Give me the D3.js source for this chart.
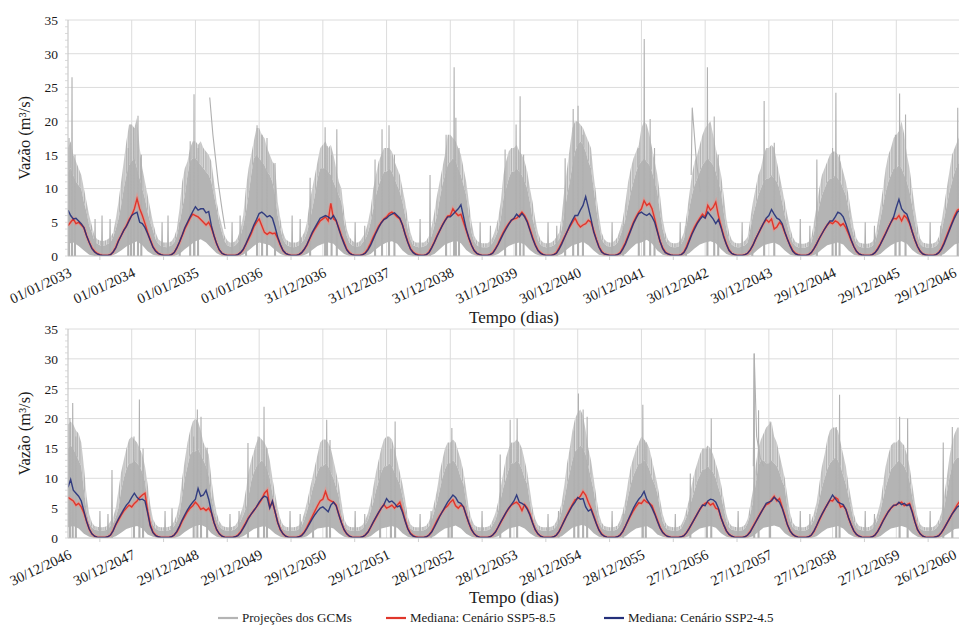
<!DOCTYPE html>
<html><head><meta charset="utf-8">
<script src="https://cdn.jsdelivr.net/npm/d3@7"></script>
<style>body{margin:0;background:#fff;}svg{display:block;}</style>
</head><body><svg id="c" width="959" height="628"></svg>
<script>
// ---------------- DATA ----------------
const yTicks = [0,5,10,15,20,25,30,35];
const topTickLabels = ["01/01/2033","01/01/2034","01/01/2035","01/01/2036","31/12/2036","31/12/2037","31/12/2038","31/12/2039","30/12/2040","30/12/2041","30/12/2042","30/12/2043","29/12/2044","29/12/2045","29/12/2046"];
const bottomTickLabels = ["30/12/2046","30/12/2047","29/12/2048","29/12/2049","29/12/2050","29/12/2051","28/12/2052","28/12/2053","28/12/2054","28/12/2055","27/12/2056","27/12/2057","27/12/2058","27/12/2059","26/12/2060"];
const legendLabels = ["Projeções dos GCMs","Mediana: Cenário SSP5-8.5","Mediana: Cenário SSP2-4.5"];

// medians, 24 samples per year (semi-monthly), last row = final value
const topSSP585 = [
[4.5,5.0,5.5,4.8,5.0,4.6,4.2,3.0,2.0,1.2,0.7,0.4,0.2,0.1,0.1,0.1,0.2,0.6,1.3,2.3,3.0,3.8,4.5,5.4],
[6.0,7.0,8.5,7.0,6.0,4.8,3.5,2.4,1.4,0.8,0.4,0.2,0.1,0.1,0.1,0.2,0.5,1.2,2.0,3.0,4.0,4.8,5.6,6.2],
[6.0,5.8,5.4,5.0,4.6,5.0,4.2,3.0,1.8,0.9,0.4,0.2,0.1,0.1,0.1,0.1,0.2,0.5,0.9,1.7,2.5,3.3,4.3,5.0],
[5.5,4.5,3.5,3.2,3.5,3.3,3.4,2.6,1.6,0.8,0.4,0.2,0.1,0.1,0.1,0.2,0.5,1.0,1.6,2.5,3.3,4.0,4.6,5.2],
[5.5,5.8,5.2,7.8,5.5,5.2,4.2,3.0,2.0,1.0,0.5,0.2,0.1,0.1,0.1,0.2,0.5,1.1,1.9,2.8,3.6,4.4,5.0,5.5],
[5.8,6.3,6.5,6.2,5.8,5.5,4.6,3.3,2.1,1.1,0.6,0.3,0.15,0.1,0.1,0.2,0.6,1.3,2.1,3.0,3.8,4.6,5.3,5.9],
[6.0,7.0,6.4,6.0,6.2,5.0,3.8,2.6,1.6,0.8,0.4,0.2,0.1,0.1,0.1,0.2,0.5,1.1,1.8,2.7,3.5,4.2,4.8,5.3],
[5.5,5.6,6.0,6.5,6.0,5.2,4.0,2.8,1.7,0.9,0.5,0.2,0.1,0.1,0.1,0.2,0.5,1.2,2.0,2.8,3.6,4.3,5.0,5.6],
[4.8,4.3,4.6,4.8,5.3,5.0,3.8,2.5,1.4,0.7,0.3,0.2,0.1,0.1,0.1,0.2,0.5,1.2,2.0,3.0,4.0,5.0,5.8,6.5],
[7.0,8.2,7.5,7.8,7.0,5.5,3.8,2.2,1.2,0.6,0.3,0.15,0.1,0.1,0.1,0.2,0.6,1.4,2.4,3.4,4.3,5.0,5.6,6.2],
[5.8,7.5,6.8,7.2,8.0,6.0,4.4,3.0,1.8,0.9,0.4,0.2,0.1,0.1,0.1,0.2,0.4,0.9,1.6,2.5,3.3,4.1,4.8,5.4],
[5.0,5.5,4.0,4.3,5.0,4.6,3.5,2.5,1.6,0.8,0.4,0.2,0.1,0.1,0.1,0.2,0.5,1.1,1.8,2.6,3.3,4.0,4.6,5.0],
[4.8,5.2,5.0,4.5,4.8,4.2,3.3,2.3,1.4,0.7,0.3,0.15,0.1,0.1,0.1,0.2,0.5,1.1,1.8,2.6,3.4,4.2,5.0,5.6],
[5.5,6.0,5.2,6.0,5.6,4.8,3.6,2.4,1.4,0.7,0.3,0.15,0.1,0.1,0.1,0.2,0.5,1.1,2.0,3.0,4.0,5.0,6.0,6.8],
[7.0]];
const topSSP245 = [
[6.8,6.0,5.5,5.6,5.2,4.8,4.2,3.0,2.0,1.1,0.6,0.3,0.15,0.1,0.1,0.1,0.2,0.6,1.2,2.2,3.0,3.8,4.4,5.2],
[6.0,6.3,6.5,5.0,4.8,4.2,3.3,2.3,1.3,0.7,0.4,0.2,0.1,0.1,0.1,0.2,0.5,1.2,2.1,3.1,4.2,5.0,5.8,6.6],
[7.3,6.8,7.0,7.0,6.4,6.6,4.5,3.0,1.8,0.9,0.4,0.2,0.1,0.1,0.1,0.1,0.2,0.5,1.0,1.8,2.7,3.6,4.6,5.4],
[6.3,6.5,6.2,5.8,6.0,5.6,4.3,2.8,1.7,0.8,0.4,0.2,0.1,0.1,0.1,0.2,0.5,1.0,1.7,2.6,3.5,4.2,4.9,5.6],
[5.8,6.0,5.8,5.5,6.0,5.3,4.0,2.8,1.8,0.9,0.4,0.2,0.1,0.1,0.1,0.2,0.4,0.9,1.6,2.5,3.4,4.2,4.9,5.4],
[5.6,6.0,6.2,6.4,6.0,5.6,4.6,3.2,2.0,1.0,0.5,0.2,0.1,0.1,0.1,0.2,0.5,1.2,2.0,2.9,3.7,4.5,5.2,5.8],
[5.8,6.2,6.6,7.0,7.6,5.8,4.0,2.7,1.6,0.8,0.4,0.2,0.1,0.1,0.1,0.2,0.4,1.0,1.7,2.5,3.3,4.0,4.7,5.3],
[5.6,6.2,5.8,6.3,5.8,5.0,3.8,2.6,1.6,0.8,0.4,0.2,0.1,0.1,0.1,0.2,0.4,1.0,1.8,2.7,3.6,4.5,5.3,6.0],
[6.0,6.8,7.5,8.8,7.2,5.5,3.6,2.4,1.3,0.6,0.3,0.2,0.1,0.1,0.1,0.2,0.4,1.0,1.8,2.8,3.8,4.8,5.6,6.3],
[6.5,6.2,6.0,6.3,5.8,5.0,3.6,2.2,1.1,0.5,0.3,0.15,0.1,0.1,0.1,0.2,0.5,1.2,2.2,3.2,4.0,4.8,5.4,5.9],
[5.6,6.5,6.0,5.5,4.8,5.4,4.2,2.8,1.7,0.8,0.4,0.2,0.1,0.1,0.1,0.2,0.4,0.9,1.6,2.5,3.3,4.1,4.9,5.6],
[6.0,6.9,6.2,5.6,5.4,4.8,3.6,2.5,1.5,0.7,0.3,0.15,0.1,0.1,0.1,0.2,0.5,1.1,1.8,2.6,3.3,4.0,4.6,5.2],
[5.2,5.8,6.5,6.3,5.8,4.8,3.6,2.4,1.4,0.7,0.3,0.15,0.1,0.1,0.1,0.2,0.5,1.0,1.7,2.5,3.3,4.2,5.0,5.8],
[7.2,8.4,7.0,6.5,6.2,5.0,3.6,2.4,1.4,0.7,0.3,0.15,0.1,0.1,0.1,0.2,0.5,1.0,1.8,2.8,3.8,4.8,5.7,6.5],
[6.8]];
const bottomSSP585 = [
[6.8,6.5,6.2,5.5,5.8,5.2,4.2,2.8,1.5,0.7,0.3,0.15,0.1,0.1,0.1,0.2,0.5,1.3,2.2,3.0,3.8,4.5,5.0,5.5],
[5.2,5.8,6.2,6.8,7.2,7.5,4.5,2.2,1.0,0.5,0.2,0.1,0.1,0.1,0.1,0.2,0.5,1.0,1.8,2.8,3.6,4.4,5.0,5.4],
[6.0,5.5,4.8,5.0,4.6,5.0,4.2,2.6,1.4,0.7,0.3,0.15,0.1,0.1,0.1,0.2,0.5,1.0,1.8,2.6,3.4,4.0,4.6,5.2],
[5.8,6.5,7.5,8.0,5.2,6.0,4.4,2.6,1.4,0.7,0.3,0.15,0.1,0.1,0.1,0.2,0.5,1.0,1.8,2.7,3.6,4.5,5.4,6.2],
[6.5,7.8,6.5,6.2,6.0,5.5,4.0,2.6,1.4,0.7,0.3,0.15,0.1,0.1,0.1,0.2,0.5,1.0,1.8,2.6,3.4,4.2,5.0,5.6],
[5.0,5.2,5.5,5.0,5.5,6.0,4.6,3.0,1.6,0.8,0.4,0.2,0.1,0.1,0.1,0.2,0.5,1.1,2.0,2.9,3.7,4.4,5.0,5.4],
[6.0,6.4,5.4,5.0,5.5,5.2,3.8,2.5,1.4,0.7,0.3,0.15,0.1,0.1,0.1,0.2,0.5,1.0,1.8,2.6,3.4,4.2,4.9,5.5],
[5.8,6.0,5.5,4.6,5.6,5.0,4.0,2.6,1.4,0.7,0.3,0.15,0.1,0.1,0.1,0.2,0.5,1.1,2.0,3.0,3.9,4.8,5.6,6.4],
[6.6,7.0,7.8,7.2,6.0,5.0,3.8,2.5,1.4,0.7,0.3,0.15,0.1,0.1,0.1,0.2,0.5,1.1,2.0,2.9,3.8,4.6,5.3,5.9],
[5.8,6.4,6.0,5.8,5.4,4.2,3.0,1.8,1.0,0.5,0.25,0.15,0.1,0.1,0.1,0.2,0.4,0.9,1.6,2.4,3.2,4.0,4.8,5.4],
[5.8,6.0,5.5,5.8,5.0,4.8,3.4,2.2,1.2,0.6,0.3,0.15,0.1,0.1,0.1,0.2,0.5,1.1,1.9,2.7,3.5,4.3,5.0,5.6],
[5.8,6.4,7.0,6.2,6.6,5.2,3.8,2.2,1.2,0.6,0.3,0.15,0.1,0.1,0.1,0.2,0.5,1.1,2.0,3.0,3.9,4.8,5.6,6.3],
[6.2,6.8,6.5,5.2,5.4,4.8,3.4,2.2,1.2,0.6,0.3,0.15,0.1,0.1,0.1,0.2,0.5,1.1,2.0,2.9,3.7,4.4,5.0,5.4],
[5.6,5.8,6.0,5.4,5.6,5.8,4.5,2.8,1.4,0.7,0.3,0.15,0.1,0.1,0.1,0.2,0.4,0.9,1.6,2.4,3.2,4.0,4.8,5.6],
[6.2]];
const bottomSSP245 = [
[8.5,9.8,8.0,7.5,7.0,6.2,4.5,2.8,1.5,0.7,0.3,0.15,0.1,0.1,0.1,0.2,0.5,1.2,2.3,3.2,4.0,4.8,5.5,6.0],
[6.8,7.5,6.8,6.4,6.5,6.2,4.2,2.0,0.9,0.4,0.2,0.1,0.1,0.1,0.1,0.2,0.5,1.1,2.0,3.0,3.9,4.7,5.4,6.0],
[6.5,8.3,7.0,7.2,8.0,6.5,4.4,2.6,1.4,0.7,0.3,0.15,0.1,0.1,0.1,0.2,0.4,0.9,1.6,2.4,3.3,4.0,4.6,5.2],
[6.0,6.6,7.0,6.8,5.0,6.2,4.4,2.6,1.4,0.7,0.3,0.15,0.1,0.1,0.1,0.2,0.4,0.9,1.6,2.4,3.2,3.9,4.5,5.0],
[5.2,4.8,4.4,5.5,6.0,5.4,3.9,2.5,1.4,0.7,0.3,0.15,0.1,0.1,0.1,0.2,0.5,1.0,1.8,2.7,3.5,4.3,5.0,5.6],
[6.6,6.0,6.2,5.8,5.2,5.4,4.3,2.8,1.5,0.7,0.3,0.15,0.1,0.1,0.1,0.2,0.5,1.0,1.8,2.7,3.6,4.4,5.2,6.0],
[6.6,7.2,6.8,6.0,5.8,5.2,3.8,2.5,1.4,0.7,0.3,0.15,0.1,0.1,0.1,0.2,0.5,1.0,1.8,2.7,3.5,4.3,5.0,5.6],
[6.2,7.2,6.0,5.8,5.5,4.8,3.8,2.5,1.4,0.7,0.3,0.15,0.1,0.1,0.1,0.2,0.5,1.1,2.0,2.9,3.8,4.6,5.4,6.0],
[6.8,6.5,6.6,5.2,4.5,4.8,3.6,2.4,1.3,0.6,0.3,0.15,0.1,0.1,0.1,0.2,0.5,1.1,2.0,3.0,4.0,5.0,5.8,6.5],
[7.0,7.8,6.5,5.8,5.0,4.0,2.8,1.7,0.9,0.5,0.25,0.15,0.1,0.1,0.1,0.2,0.4,0.9,1.6,2.4,3.2,4.0,4.8,5.5],
[5.4,6.2,6.5,6.4,6.0,5.0,3.4,2.2,1.2,0.6,0.3,0.15,0.1,0.1,0.1,0.2,0.5,1.0,1.8,2.6,3.4,4.2,5.0,5.8],
[6.0,6.2,6.8,6.4,6.0,5.0,3.6,2.2,1.2,0.6,0.3,0.15,0.1,0.1,0.1,0.2,0.5,1.2,2.1,3.1,4.0,4.8,5.6,6.4],
[7.2,6.6,6.0,5.8,5.6,4.8,3.4,2.2,1.2,0.6,0.3,0.15,0.1,0.1,0.1,0.2,0.5,1.1,1.9,2.8,3.6,4.4,5.0,5.5],
[5.5,6.0,5.6,5.8,5.4,5.6,4.3,2.7,1.4,0.7,0.3,0.15,0.1,0.1,0.1,0.2,0.4,0.9,1.6,2.4,3.2,4.0,4.6,5.2],
[5.5]];

// GCM projections: dense core top (24/yr), thin-line upper reach (24/yr), lower edge (12/yr)
const topGcmCore = [
[12.5,13,12,11,10.5,10,8,6.5,4.5,3.5,2.2,1.8,1.6,1.5,1.6,1.8,2.0,2.8,4.0,5.5,7.5,10,12,13.5],
[14,14.5,13,11.5,10,8.5,6.5,5,3.8,2.5,1.8,1.5,1.4,1.3,1.4,1.6,2.0,3.0,4.8,7,9,12,14,14.5],
[14.5,14,13.5,13,12.5,12,11,9,7,5,3.5,2.2,1.6,1.4,1.4,1.6,2.0,3.0,4.5,6.5,9,12,14.5,15],
[14.5,14,13.5,12.5,12,11,9,6,4,2.5,1.8,1.5,1.4,1.3,1.4,1.6,2.0,2.5,3.5,5,7,9,11.5,13],
[13,13,12.5,12,11,10,9,8,5,3,2,1.6,1.4,1.4,1.5,2,2.5,3.5,5,7,9,10.5,11.5,12.5],
[12.5,13,12.5,11.5,10.5,9.5,8,6,4,2.5,1.6,1.4,1.3,1.3,1.4,1.6,2.2,3.0,4.5,6,8.5,10.5,12,13.5],
[14,14.5,14,13,12,10.5,9,6,3.5,2.2,1.6,1.4,1.3,1.3,1.3,1.5,2.0,2.8,3.8,5.5,8.5,10,11.5,12.5],
[12.5,13,12.5,12,11,10,8,5.5,4,2.4,1.7,1.4,1.3,1.3,1.4,1.6,2.0,2.5,4.0,6.5,9,11,13.5,15.5],
[16.5,17,16.5,15.5,14,13,10,7,4.5,2.5,1.8,1.5,1.4,1.4,1.6,2.0,3.0,4.0,5.5,7.5,9.5,11,12.5,13.5],
[14,14.5,14,13.5,12.5,11,9.5,6.5,4,2.5,1.7,1.4,1.3,1.3,1.4,1.8,2.5,4.5,7,9,10.5,11.5,12.5,13.5],
[14,14.5,14,13.5,12.5,11,9.5,6.5,4,2.5,1.7,1.4,1.3,1.3,1.4,1.6,2.0,4.0,6,7.5,9,10,11,11.5],
[11.5,12,11.5,11,10,8,6,4.5,3,2,1.5,1.3,1.2,1.2,1.3,1.5,2.0,3.5,5.5,7.5,9,10,11,11.5],
[11.5,12,11.5,11,10,9,7,4.5,3,1.8,1.4,1.3,1.2,1.2,1.3,1.5,2.0,3.5,5.5,7.5,9.5,11,12,13],
[13,13.5,13,12,11,9.5,7.5,5,3,1.8,1.4,1.3,1.2,1.2,1.3,1.5,2.0,3.5,5.5,7.5,9.5,11,12.5,13.5],
[14]];
const topGcmHigh = [
[16,17,15,14,13,12,10,8,6,4.5,3,2.5,2.3,2.2,2.3,2.5,2.8,3.5,5.5,8,11,14,17,19.5],
[19.5,19,20.5,16,13,11,9,7,5,3.5,2.5,2.2,2.0,2.0,2.0,2.2,2.8,4,7,11,13,14,16,17],
[17,16.5,17,16,15.5,15,14,11,8,6,4.5,3,2.3,2.0,2.0,2.2,2.8,4,6,10,13,15,17,19],
[19,18,17.5,16,15,14,13.5,8,5.5,3.5,2.5,2.2,2.0,2.0,2.0,2.2,2.8,3.5,5,8,10,12,14,16],
[16.5,17,16,16.5,15,13,11,10,6.5,4,2.8,2.3,2.0,2.0,2.2,2.8,3.5,5,7,10,12,14,15,16],
[16,16,15.5,14,13,12,10,8,5.5,3.5,2.3,2.0,2.0,2.0,2.0,2.3,3,4.5,6.5,9,11,13,15,18],
[18,17.5,17,16,15,13,11,8,5,3,2.3,2.0,1.9,1.9,1.9,2.2,2.8,4,5.5,8,12,14,15.5,16],
[16,16.5,15.5,15,14,12.5,10,8,5.5,3.5,2.4,2.0,1.9,1.9,2.0,2.3,2.8,3.5,6,10,13,16,19,20],
[20,19.5,19,18,17,16,12,9,6,3.5,2.5,2.1,2.0,2.0,2.3,2.8,4,5.5,8,11,13,14.5,15.5,16.5],
[19,20,19.5,18,16,14,12,9,5.5,3.5,2.4,2.0,1.9,1.9,2.0,2.5,3.5,6,9,12,14,15,16.5,18],
[19,19.5,20,18,16,14,12,9,5.5,3.5,2.4,2.0,1.9,1.9,2.0,2.3,2.8,5.5,8,10,12,13,15,16],
[16,16.5,16,14,12,10,8,6,4.2,2.8,2.1,1.9,1.8,1.8,1.9,2.1,2.8,5,7.5,10,12,13,14,15],
[15.5,15.5,15,14,12.5,11,9,6.5,4.2,2.6,2.0,1.9,1.8,1.8,1.9,2.1,2.8,5,7.5,10,13,15,16,17.5],
[18,18.5,20,18,15,13,10,7,4.5,2.6,2.0,1.9,1.8,1.8,1.9,2.1,2.8,5,7.5,10,12.5,15,16,17],
[18]];
const topGcmLow = [
[1.8,2.0,1.5,0.8,0.2,0,0,0,0,0.3,0.8,1.4],
[1.8,2.2,1.6,0.7,0.2,0,0,0,0,0.3,1.0,1.6],
[2.2,2.5,2.0,1.2,0.4,0,0,0,0,0.2,0.8,1.5],
[2.0,1.8,1.6,0.9,0.3,0,0,0,0,0.3,0.9,1.5],
[1.8,2.0,1.8,1.0,0.3,0,0,0,0,0.3,1.0,1.6],
[2.0,2.2,1.8,0.8,0.2,0,0,0,0,0.3,1.0,1.7],
[2.0,2.3,1.9,0.9,0.3,0,0,0,0,0.3,0.9,1.5],
[1.8,2.0,1.7,0.9,0.3,0,0,0,0,0.3,1.0,1.6],
[1.8,2.1,1.6,0.8,0.2,0,0,0,0,0.3,1.1,1.8],
[2.0,2.4,1.8,0.8,0.2,0,0,0,0,0.4,1.1,1.7],
[2.0,2.2,1.9,1.0,0.3,0,0,0,0,0.3,1.0,1.6],
[1.8,2.0,1.6,0.8,0.2,0,0,0,0,0.3,1.0,1.6],
[1.8,2.0,1.7,0.8,0.2,0,0,0,0,0.3,1.0,1.6],
[2.0,2.2,1.8,0.9,0.3,0,0,0,0,0.3,1.0,1.7],
[2.0]];
const bottomGcmCore = [
[15,15.5,15,14,13,12,8,4.5,2.5,1.8,1.4,1.3,1.2,1.2,1.3,1.5,2.0,2.5,3.5,5,8,10,11.5,12.5],
[12.5,13,12.5,12,11,9.5,6,3.5,2.2,1.6,1.3,1.2,1.2,1.2,1.3,1.5,2.0,2.8,4,7,10,12,14,14.5],
[14.5,15,14,13,12,10.5,7,4.5,3,2,1.5,1.3,1.2,1.2,1.3,1.5,2.0,2.8,3.8,5,7,9.5,11,12],
[12.5,13,12.5,11.5,10,7.5,5,3.5,2.2,1.5,1.3,1.2,1.2,1.2,1.3,1.5,2.0,3.0,4.5,6,8,9.5,11,12],
[12,12.5,12,11,10,8.5,7,4,2.2,1.5,1.3,1.2,1.2,1.2,1.3,1.6,2.2,3.0,4.5,6,8,9.5,11,12],
[12,12.5,12,11,10,9,7,5,2.5,1.6,1.3,1.2,1.2,1.2,1.3,1.5,2.0,3.0,4.5,6,8,10,11.5,12.5],
[12.5,13,12.5,11.5,10,9,6,3.5,2.2,1.5,1.3,1.2,1.2,1.2,1.3,1.5,2.2,3.0,4.5,6.5,8.5,10,11.5,12.5],
[12.5,13,12.5,11.5,10,9,6,3.5,2.2,1.5,1.3,1.2,1.2,1.2,1.3,1.5,2.0,3.0,4.5,6.5,9,11,13,14.5],
[15,15.5,15,14,12,10,8,5,2.8,1.8,1.4,1.3,1.2,1.2,1.3,1.5,2.2,3.2,4.8,7,9,10.5,11.5,12.5],
[12.5,13,12.5,11.5,10,9,7.5,5,2.8,1.8,1.4,1.3,1.2,1.2,1.3,1.6,2.5,3.5,5,6.5,8,9.5,10.5,11.5],
[11.5,12,11.5,11,10,8.5,7,5,2.8,1.8,1.4,1.3,1.2,1.2,1.3,1.6,2.5,4,6,9,12,13,13,12.5],
[12.5,13,12.5,12,11,9.5,8.5,5,3,1.8,1.4,1.3,1.2,1.2,1.3,1.6,2.2,3.0,4.5,6.5,8.5,10,11.5,12.5],
[13,13.5,13,12,10.5,9,7,5,2.8,1.8,1.4,1.3,1.2,1.2,1.3,1.6,2.2,3.0,4.5,6.5,8.5,10,11.5,12],
[12.5,13,12.5,12,11,9.5,7,4.5,2.5,1.6,1.3,1.2,1.2,1.2,1.3,1.6,2.2,3.0,5,7.5,10,12,13,13.5],
[13.5]];
const bottomGcmHigh = [
[19,19.5,19,18,17.5,16,12,7,4,2.6,2.0,1.9,1.8,1.8,1.9,2.1,2.8,3.5,5,8,11,13,15,16.5],
[17,16.5,16,15,14,12,9,5.5,3.2,2.3,1.9,1.8,1.8,1.8,1.9,2.1,2.8,4,6,10,13,16,18,19.5],
[20,19.5,18,16,15,14,10,6.5,4.2,2.8,2.1,1.9,1.8,1.8,1.9,2.1,2.8,4,5.5,8,11,13,14.5,16],
[17,16.5,16,15,13,10,7.5,5,3.2,2.2,1.9,1.8,1.8,1.8,1.9,2.1,2.8,4.2,6,8,10,12,14,16],
[16.5,16.5,16,15,13,11,9,6,3.2,2.2,1.9,1.8,1.8,1.8,1.9,2.2,3,4.2,6,8.5,11,13,15,16.5],
[17,17,16.5,15,13,11,9,6.5,3.5,2.3,1.9,1.8,1.8,1.8,1.9,2.1,2.8,4.2,6,8,11,13,15,16],
[16,16.5,16,14.5,13,11,8,5,3.2,2.2,1.9,1.8,1.8,1.8,1.9,2.1,3,4.2,6,8.5,11,13.5,15,16],
[16,16.5,16,15,13,11,8,5,3.2,2.2,1.9,1.8,1.8,1.8,1.9,2.1,2.8,4.2,6,9,12.5,15,18,20],
[21,21.5,20.5,18,15,13,10,7,4,2.6,2.0,1.9,1.8,1.8,1.9,2.1,3,4.5,6.5,9.5,12,13.5,15,16],
[17,16.5,16,15,13,11,9,6.5,4,2.6,2.0,1.9,1.8,1.8,1.9,2.2,3.2,4.8,6.5,9,11,12.5,14,15],
[15,15.5,15,14,12.5,11,9,6.5,4,2.6,2.0,1.9,1.8,1.8,1.9,2.2,3.2,5.5,8,12,15,16.5,17.5,18.5],
[19,19.5,17,16,14,12,10,7,4.2,2.6,2.0,1.9,1.8,1.8,1.9,2.2,3,4.2,6,9,12,14,16.5,18],
[18.5,18.5,18,16,14,12,9,6.5,4,2.6,2.0,1.9,1.8,1.8,1.9,2.2,3,4.2,6,9,12,14,15.5,16],
[16,16.5,16,15.5,14,12,9,6,3.5,2.3,1.9,1.8,1.8,1.8,1.9,2.2,3,4.2,7,10,13.5,16,17.5,18.5],
[18.5]];
const bottomGcmLow = [
[1.8,2.0,1.6,0.7,0.2,0,0,0,0,0.3,0.9,1.5],
[1.8,2.0,1.6,0.6,0.2,0,0,0,0,0.3,1.0,1.6],
[2.0,2.2,1.8,0.8,0.2,0,0,0,0,0.3,0.9,1.5],
[1.8,2.0,1.5,0.7,0.2,0,0,0,0,0.3,1.0,1.6],
[1.7,1.9,1.6,0.8,0.2,0,0,0,0,0.3,1.0,1.6],
[1.8,2.0,1.7,0.8,0.2,0,0,0,0,0.3,1.0,1.6],
[1.8,2.1,1.6,0.7,0.2,0,0,0,0,0.3,1.0,1.6],
[1.8,2.0,1.6,0.8,0.2,0,0,0,0,0.3,1.0,1.7],
[2.0,2.2,1.7,0.8,0.2,0,0,0,0,0.3,1.0,1.6],
[1.8,2.0,1.5,0.6,0.2,0,0,0,0,0.3,1.0,1.6],
[1.8,2.0,1.7,0.8,0.2,0,0,0,0,0.3,1.0,1.7],
[1.9,2.1,1.8,0.8,0.2,0,0,0,0,0.3,1.0,1.6],
[1.8,2.0,1.6,0.7,0.2,0,0,0,0,0.3,1.0,1.6],
[1.8,2.0,1.7,0.8,0.2,0,0,0,0,0.3,0.9,1.5],
[1.6]];
// isolated GCM peaks: [day since start of panel, value]
const topGcmPeaks = [[6,17.5],[23,26.5],[40,15],[155,5.5],[195,6],[241,5.5],[345,16],[361,19.5],[378,19],[401,20.8],[420,15],[539,5],[573,6],[640,5],[700,17],[722,24],[745,16],[940,5],[986,6],[1020,4.5],
[1083,19.4],[1112,18],[1140,17.5],[1186,13.8],[1284,6],[1330,5.5],[1387,11.6],[1473,19.1],[1484,16.3],[1510,15],[1540,18.8],[1645,5],[1700,4.5],[1759,14.3],[1799,18.8],
[1839,19.4],[1870,15],[2017,5.5],[2074,12],[2166,18],[2212,28],[2222,20.5],[2240,16],[2361,5],[2420,4.5],[2504,15.8],[2567,19.5],[2590,23.7],[2610,15],[2750,5],[2800,4.5],[2848,14.5],[2894,21.8],[2922,22.3],[2950,18],
[3117,5],[3180,4.5],[3270,16],[3301,32.2],[3335,20.3],[3360,16],[3507,5],[3540,4.5],[3663,28],[3702,20.7],[3725,15],[3862,5],[3920,4.5],[3988,23],[4046,16.8],[4195,5.5],[4250,4.5],[4290,14.3],[4380,16],[4399,24.2],[4420,15],[4567,5],[4620,4.5],[4740,18],[4764,24.1],[4798,21],[4939,5],[5000,4.5],[5097,22]];
const bottomGcmPeaks = [[11,20.1],[27,22.6],[45,17],[183,4.5],[229,4],[252,11.4],[378,17],[409,23.2],[430,15],[556,4.5],[596,5],[720,17],[741,21.5],[762,20.3],[797,15.1],[928,4],[980,4.5],[1031,15.9],
[1089,17],[1123,22],[1140,15],[1272,4.5],[1330,4],[1404,6],[1482,19.8],[1501,16.4],[1645,4.5],[1700,4],[1788,11.4],[1850,15],[1874,19.5],[2017,4],[2080,4.5],[2180,15],[2199,18.4],[2372,4.5],[2476,14],[2533,19.8],[2573,20],
[2750,4],[2810,4.5],[2900,18],[2924,24.2],[2951,21.5],[2974,20.3],[3117,4.5],[3180,4],[3293,22.3],[3310,16],[3479,4],[3565,10.8],[3685,20],[3660,15],[3839,4.5],[3931,30.9],[3956,21.4],[4022,19.5],[4195,4.5],[4250,4],
[4401,18.6],[4420,24],[4567,4.5],[4620,4],[4764,20.3],[4810,20],[4939,4.5],[5014,16],[5066,18.6]];
// individual GCM strands (day, value)
const topGcmStrands = [[[812,23.5],[830,18],[860,11],[882,7],[900,4]],[[3570,12],[3576,22],[3600,14],[3622,9.5]]];
const bottomGcmStrands = [[[3926,12],[3931,30.9],[3945,17],[3965,13.5],[3985,12]]];

// ---------------- CHART ----------------
const DAYS = 365, NYEARS = 14;
const FONT = "Liberation Serif";
const svg = d3.select("#c");
const xLeft = 68, xRight = 960;
const x = d3.scaleLinear().domain([0, NYEARS*DAYS]).range([xLeft, xRight]);
const toPts = (rows, perYear) => rows.flat().map((v,i)=>({t:i*DAYS/perYear, v}));
const COL = {grid:"#dcdcdc", axis:"#bfbfbf", gray:"#b4b4b4", red:"#e0362b", blue:"#24307a"};

const defs = svg.append("defs");
const pat = defs.append("pattern").attr("id","hair").attr("patternUnits","userSpaceOnUse")
  .attr("width",7).attr("height",6);
pat.append("rect").attr("width",7).attr("height",6).attr("fill","#e3e3e3");
[[0,1.1],[1.9,0.9],[3.3,1.2],[5.4,1.0]].forEach(s=>
  pat.append("rect").attr("x",s[0]).attr("width",s[1]).attr("height",6).attr("fill","#b6b6b6"));

function txt(sel,size){ return sel.attr("font-family",FONT).style("font-family",FONT).attr("font-size",size).attr("fill","#1a1a1a"); }

function panel(cfg, idx){
  const y = d3.scaleLinear().domain([0,35]).range([cfg.y0, cfg.y1]);
  const g = svg.append("g");
  const clipId = "clip"+idx;
  defs.append("clipPath").attr("id",clipId).append("rect")
    .attr("x",xLeft).attr("y",cfg.y1-2).attr("width",xRight-xLeft).attr("height",cfg.y0-cfg.y1+2);

  g.selectAll(".hg").data(yTicks.slice(1)).join("line")
    .attr("x1",xLeft).attr("x2",xRight).attr("y1",d=>y(d)).attr("y2",d=>y(d))
    .attr("stroke",COL.grid).attr("stroke-width",1);
  const tickDays = d3.range(0, NYEARS+1).map(k=>k*DAYS);
  g.selectAll(".vg").data(tickDays.slice(1)).join("line")
    .attr("x1",d=>x(d)).attr("x2",d=>x(d)).attr("y1",y(0)).attr("y2",y(35))
    .attr("stroke",COL.grid).attr("stroke-width",1);

  const plot = g.append("g").attr("clip-path",`url(#${clipId})`);
  const core = toPts(cfg.core,24), high = toPts(cfg.high,24), low = toPts(cfg.low,12);
  const hair = core.map((p,i)=>({t:p.t, a:p.v, b:high[i].v}));
  plot.append("path").datum(hair)
    .attr("d", d3.area().x(d=>x(d.t)).y0(d=>y(d.a)).y1(d=>y(d.b)))
    .attr("fill","url(#hair)");
  const poly = core.map(p=>[x(p.t),y(p.v)]).concat(low.slice().reverse().map(p=>[x(p.t),y(p.v)]));
  plot.append("path").attr("d", d3.line()(poly)+"Z").attr("fill",COL.gray);
  const ln = d3.line().x(d=>x(d[0])).y(d=>y(d[1]));
  plot.selectAll(".pk").data(cfg.peaks).join("path")
    .attr("d", d=>ln([[d[0]-3,0],[d[0],d[1]],[d[0]+3,0]]))
    .attr("fill","none").attr("stroke","#b0b0b0").attr("stroke-width",1.1);
  plot.selectAll(".st").data(cfg.strands).join("path")
    .attr("d", d=>ln(d)).attr("fill","none").attr("stroke","#b0b0b0").attr("stroke-width",1.1);

  const ml = d3.line().x(d=>x(d.t)).y(d=>y(d.v));
  const red = toPts(cfg.red,24), blue = toPts(cfg.blue,24);
  plot.append("path").datum(red).attr("d",ml).attr("fill","none")
    .attr("stroke","#f08c84").attr("stroke-width",3.4).attr("stroke-opacity",0.55);
  plot.append("path").datum(red).attr("d",ml).attr("fill","none")
    .attr("stroke",COL.red).attr("stroke-width",1.4);
  plot.append("path").datum(blue).attr("d",ml).attr("fill","none")
    .attr("stroke",COL.blue).attr("stroke-width",1.4).attr("stroke-opacity",0.9);

  g.append("line").attr("x1",xLeft).attr("x2",xLeft).attr("y1",y(0)).attr("y2",y(35)).attr("stroke",COL.axis);
  g.selectAll(".mt").data(d3.range(0,36)).join("line")
    .attr("x1",xLeft-3).attr("x2",xLeft).attr("y1",d=>y(d)).attr("y2",d=>y(d))
    .attr("stroke","#d0d0d0").attr("stroke-width",0.8);
  g.append("line").attr("x1",xLeft).attr("x2",xRight).attr("y1",y(0)).attr("y2",y(0)).attr("stroke",COL.axis);
  g.selectAll(".xt").data(d3.range(0,NYEARS).map(k=>k*DAYS+DAYS/2)).join("line")
    .attr("x1",d=>x(d)).attr("x2",d=>x(d)).attr("y1",y(0)).attr("y2",y(0)+4).attr("stroke","#d0d0d0");

  const ya = g.append("g").attr("transform",`translate(${xLeft},0)`)
    .call(d3.axisLeft(y).tickValues(yTicks).tickSize(0).tickPadding(10));
  ya.attr("font-family",FONT);
  ya.select(".domain").remove();
  txt(ya.selectAll("text"),13.5);

  const xa = g.append("g").attr("transform",`translate(0,${y(0)})`)
    .call(d3.axisBottom(x).tickValues(tickDays).tickSize(0).tickFormat((d,i)=>cfg.labels[i]));
  xa.attr("font-family",FONT);
  xa.select(".domain").remove();
  txt(xa.selectAll("text"),14.5)
    .attr("text-anchor","end").attr("dy",0).attr("y",0)
    .attr("transform",(d,i)=>`translate(${i===NYEARS?-3:4},20) rotate(-25)`);

  txt(svg.append("text"),16.5).attr("transform",`translate(30,${(cfg.y0+cfg.y1)/2}) rotate(-90)`)
    .attr("text-anchor","middle").text("Vazão (m³/s)");
  txt(svg.append("text"),17).attr("x",(xLeft+xRight)/2).attr("y",cfg.titleY)
    .attr("text-anchor","middle").text("Tempo (dias)");
}

panel({y0:256,y1:20,labels:topTickLabels,core:topGcmCore,high:topGcmHigh,low:topGcmLow,
  peaks:topGcmPeaks,strands:topGcmStrands,red:topSSP585,blue:topSSP245,titleY:323},0);
panel({y0:538,y1:329,labels:bottomTickLabels,core:bottomGcmCore,high:bottomGcmHigh,low:bottomGcmLow,
  peaks:bottomGcmPeaks,strands:bottomGcmStrands,red:bottomSSP585,blue:bottomSSP245,titleY:603},1);

const legend = svg.append("g");
const items = [{x:218,c:"#b4b4b4"},{x:386,c:COL.red},{x:604,c:COL.blue}];
items.forEach((it,i)=>{
  legend.append("line").attr("x1",it.x).attr("x2",it.x+20).attr("y1",618).attr("y2",618)
    .attr("stroke",it.c).attr("stroke-width",2.2);
  txt(legend.append("text"),13).attr("x",it.x+24).attr("y",622).text(legendLabels[i]);
});
</script></body></html>
